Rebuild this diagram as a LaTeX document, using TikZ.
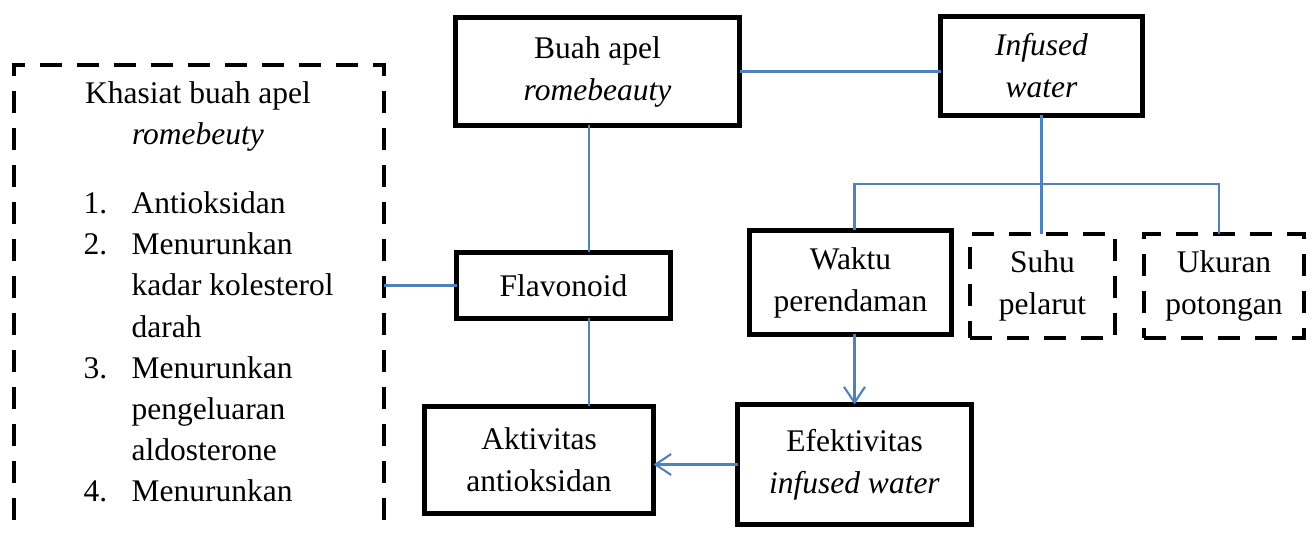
\documentclass[tikz,border=0pt]{standalone}
\usepackage{fontspec}
\setmainfont{Liberation Serif}
\usetikzlibrary{arrows.meta,calc}
\definecolor{lnblue}{RGB}{79,129,189}
\begin{document}
\begin{tikzpicture}[x=0.381pt,y=-0.381pt,
  sz/.style 2 args={minimum width={#1*0.381pt},minimum height={#2*0.381pt}},
  solidbox/.style={draw=black,line width=1.9pt,inner sep=0pt,outer sep=0pt,align=center,font=\fontsize{12}{16}\selectfont},
  dashbox/.style={draw=black,line width=1.6pt,dash pattern=on 8.4pt off 5.7pt,inner sep=0pt,outer sep=0pt,align=center,font=\fontsize{12}{16}\selectfont},
  link/.style={draw=lnblue,line width=0.8pt},
  arr/.style={link,-{Straight Barb[length=6pt,width=8pt]}},
  txt/.style={inner sep=0pt,font=\fontsize{12}{15.7}\selectfont}]
\useasboundingbox (0,0) rectangle (1316,535);
\clip (0,0) rectangle (1316,535);

\node[solidbox,sz={284}{108}] (buah) at (597.5,71.5) {Buah apel\\\textit{romebeauty}};
\node[solidbox,sz={202}{99}] (infused) at (1041.5,66) {\textit{Infused}\\\textit{water}};
\node[solidbox,sz={214}{66}] (flav) at (563.5,285.5) {Flavonoid};
\node[solidbox,sz={229}{107}] (aktiv) at (539,460) {Aktivitas\\antioksidan};
\node[solidbox,sz={202}{104}] (waktu) at (850.5,282.5) {Waktu\\perendaman};
\node[solidbox,sz={234}{120}] (efek) at (854.5,464.5) {Efektivitas\\\textit{infused water}};
\node[dashbox,sz={145}{104}] (suhu) at (1042.5,286) {Suhu\\pelarut};
\node[dashbox,sz={160}{104}] (ukuran) at (1224,286) {Ukuran\\potongan};
\node[dashbox,sz={370}{640}] (khasiat) at (199,385) {};

\node[txt,anchor=base,align=center] (ktitle) at (198,145) {Khasiat buah apel\\\textit{romebeuty}};
\node[txt,anchor=base west,align=left] (klist) at (83,502) {%
\makebox[18.3pt][l]{1.}Antioksidan\\
\makebox[18.3pt][l]{2.}Menurunkan\\
\hspace*{18.3pt}kadar kolesterol\\
\hspace*{18.3pt}darah\\
\makebox[18.3pt][l]{3.}Menurunkan\\
\hspace*{18.3pt}pengeluaran\\
\hspace*{18.3pt}aldosterone\\
\makebox[18.3pt][l]{4.}Menurunkan};

\coordinate (cx) at (589,0);
\coordinate (bar) at (0,184);
\coordinate (ux) at (1219,0);

\draw[link] (buah.east) -- (buah.east -| infused.west);
\draw[link] (buah.south -| cx) -- (flav.north -| cx);
\draw[link] (flav.south -| cx) -- (aktiv.north -| cx);
\draw[link] (flav.west) -- (flav.west -| khasiat.east);
\draw[link] (infused.south) -- (infused.south |- suhu.north);
\draw[link] (waktu.north -| efek.north) -- (bar -| efek.north) -- (bar -| ux) -- (ukuran.north -| ux);
\draw[arr] (waktu.south -| efek.north) -- (efek.north);
\draw[arr] (efek.west) -- (efek.west -| aktiv.east);
\end{tikzpicture}
\end{document}
